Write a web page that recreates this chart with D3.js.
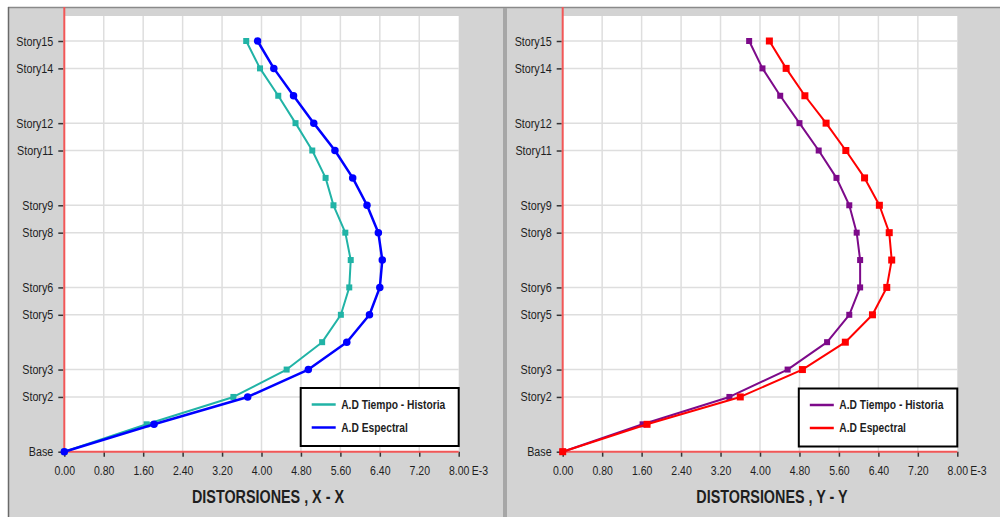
<!DOCTYPE html>
<html>
<head>
<meta charset="utf-8">
<script src="https://cdn.jsdelivr.net/npm/d3@7"></script>
<style>
  html, body { margin: 0; padding: 0; background: #fff; }
  svg { display: block; }
  text { font-family: "Liberation Sans Narrow", "Arial Narrow", "Liberation Sans", Arial, sans-serif; fill: #1e1e1e; }
</style>
</head>
<body>
<div id="chart"></div>
<script>
// story names, bottom to top
const stories = ["Base", "Story1", "Story2", "Story3", "Story4", "Story5", "Story6", "Story7",
                 "Story8", "Story9", "Story10", "Story11", "Story12", "Story13", "Story14", "Story15"];
// only these storeys get a label + grid line
const labelledStories = [0, 2, 3, 5, 6, 8, 9, 11, 12, 14, 15];
const xTicks = [0, 0.8, 1.6, 2.4, 3.2, 4.0, 4.8, 5.6, 6.4, 7.2, 8.0];
const seriesNames = ["A.D Tiempo - Historia", "A.D Espectral"];
const titles = ["DISTORSIONES , X - X", "DISTORSIONES , Y - Y"];

// drifts (x 1E-3), Base .. Story15
const tiempoXX   = [0, 1.67, 3.43, 4.51, 5.23, 5.61, 5.78, 5.81, 5.70, 5.46, 5.30, 5.03, 4.69, 4.34, 3.97, 3.69];
const espectralXX = [0, 1.82, 3.72, 4.95, 5.73, 6.19, 6.40, 6.45, 6.37, 6.14, 5.85, 5.49, 5.06, 4.65, 4.25, 3.92];
const tiempoYY   = [0, 1.62, 3.38, 4.56, 5.36, 5.81, 6.03, 6.03, 5.96, 5.81, 5.55, 5.19, 4.80, 4.41, 4.05, 3.78];
const espectralYY = [0, 1.71, 3.60, 4.86, 5.73, 6.28, 6.57, 6.67, 6.62, 6.42, 6.12, 5.74, 5.34, 4.91, 4.53, 4.19];

const W = 1000, H = 517;

const svg = d3.select("#chart").append("svg")
    .attr("width", W)
    .attr("height", H);

// no narrow font installed -> squeeze the regular one to the narrow width
function condense(sel, k) {
    sel.each(function() {
        let len = this.getComputedTextLength();
        d3.select(this)
            .attr("textLength", len * k)
            .attr("lengthAdjust", "spacingAndGlyphs");
    });
}

// window chrome
svg.append("rect").attr("x", 8).attr("y", 7).attr("width", W - 8).attr("height", H - 7).attr("fill", "#d3d3d3");
svg.append("line").attr("x1", 8).attr("x2", W).attr("y1", 7.5).attr("y2", 7.5).attr("stroke", "#8a8a8a").attr("stroke-width", 1.5);
svg.append("line").attr("x1", 8.5).attr("x2", 8.5).attr("y1", 7).attr("y2", H).attr("stroke", "#6a6a6a").attr("stroke-width", 1.5);
svg.append("rect").attr("x", 503).attr("y", 8).attr("width", 4).attr("height", H - 8).attr("fill", "#a6a6a6");

function DriftChart() {

    let self = this;

    self.initialize = function(conf) {
        self.conf = conf;
        self.x = d3.scaleLinear().domain([0, 8]).range([conf.left, conf.right]);
        self.y = d3.scaleLinear().domain([0, 15]).range([conf.bottom, conf.top]);
        self.g = svg.append("g");
        self.render();
    };

    self.render = function() {
        self.drawFrame();
        self.drawAxes();
        self.drawSeries();
        self.drawLegend();
    };

    self.drawFrame = function() {
        let c = self.conf;
        self.g.append("rect")
            .attr("x", self.x(0)).attr("y", c.plotTop)
            .attr("width", self.x(8) - self.x(0))
            .attr("height", self.y(0) - c.plotTop)
            .attr("fill", "#fff");

        self.g.selectAll("line.vgrid")
            .data(xTicks.filter(d => d > 0 && d < 8))
            .enter().append("line")
            .attr("class", "vgrid")
            .attr("x1", d => self.x(d)).attr("x2", d => self.x(d))
            .attr("y1", c.plotTop).attr("y2", self.y(0))
            .attr("stroke", "#dedede").attr("stroke-width", 1.5);

        self.g.selectAll("line.hgrid")
            .data(labelledStories.filter(d => d > 0))
            .enter().append("line")
            .attr("class", "hgrid")
            .attr("x1", self.x(0)).attr("x2", self.x(8))
            .attr("y1", d => self.y(d)).attr("y2", d => self.y(d))
            .attr("stroke", "#dedede").attr("stroke-width", 1.5);
    };

    self.drawAxes = function() {
        let c = self.conf;

        let xAxis = d3.axisBottom(self.x)
            .tickValues(xTicks)
            .tickFormat(d3.format(".2f"))
            .tickSize(5)
            .tickPadding(9);
        let xg = self.g.append("g")
            .attr("transform", "translate(0," + self.y(0) + ")")
            .call(xAxis);
        xg.select(".domain").remove();
        xg.selectAll(".tick line").attr("stroke", "#333").attr("stroke-width", 1.5);
        xg.selectAll(".tick text").style("font-size", "12.5px").attr("fill", "#1e1e1e").call(condense, 0.84);
        // exponent after the last label
        xg.append("text")
            .attr("x", self.x(8) + 13)
            .attr("y", 14)
            .attr("dy", "0.71em")
            .attr("text-anchor", "start")
            .style("font-size", "12.5px")
            .attr("fill", "#1e1e1e")
            .text("E-3")
            .call(condense, 0.84);

        let yAxis = d3.axisLeft(self.y)
            .tickValues(labelledStories)
            .tickFormat(d => stories[d])
            .tickSize(5)
            .tickPadding(5);
        let yg = self.g.append("g")
            .attr("transform", "translate(" + (self.x(0) - 1) + ",0)")
            .call(yAxis);
        yg.select(".domain").remove();
        yg.selectAll(".tick line").attr("stroke", "#333").attr("stroke-width", 1.5);
        yg.selectAll(".tick text").style("font-size", "12.5px").attr("fill", "#1e1e1e").call(condense, 0.86);

        // red axis lines
        self.g.append("line")
            .attr("x1", self.x(0)).attr("x2", self.x(0))
            .attr("y1", 7).attr("y2", self.y(0))
            .attr("stroke", "#f25757").attr("stroke-width", 2);
        self.g.append("line")
            .attr("x1", self.x(0)).attr("x2", self.x(8))
            .attr("y1", self.y(0)).attr("y2", self.y(0))
            .attr("stroke", "#f25757").attr("stroke-width", 2);

        self.g.append("text")
            .attr("x", c.titleX)
            .attr("y", c.titleY)
            .attr("text-anchor", "middle")
            .style("font-size", "17.5px")
            .style("font-weight", "bold")
            .attr("fill", "#111")
            .text(c.title)
            .call(condense, 0.82);
    };

    self.drawSeries = function() {
        let line = d3.line()
            .x(d => self.x(d))
            .y((d, i) => self.y(i));

        self.conf.series.forEach(function(s) {
            let sg = self.g.append("g");
            sg.append("path")
                .datum(s.values)
                .attr("fill", "none")
                .attr("stroke", s.color)
                .attr("stroke-width", s.width)
                .attr("stroke-linejoin", "round")
                .attr("d", line);

            if (s.marker === "circle") {
                sg.selectAll("circle")
                    .data(s.values)
                    .enter().append("circle")
                    .attr("cx", d => self.x(d))
                    .attr("cy", (d, i) => self.y(i))
                    .attr("r", s.size / 2)
                    .attr("fill", s.color);
            } else {
                sg.selectAll("rect")
                    .data(s.values)
                    .enter().append("rect")
                    .attr("x", d => self.x(d) - s.size / 2)
                    .attr("y", (d, i) => self.y(i) - s.size / 2)
                    .attr("width", s.size)
                    .attr("height", s.size)
                    .attr("fill", s.color);
            }
        });
    };

    self.drawLegend = function() {
        let c = self.conf;
        let lg = self.g.append("g")
            .attr("transform", "translate(" + (self.x(8) - c.legendW) + "," + c.legendTop + ")");

        lg.append("rect")
            .attr("x", 0).attr("y", 0)
            .attr("width", c.legendW).attr("height", 58)
            .attr("fill", "#fff")
            .attr("stroke", "#000")
            .attr("stroke-width", 2);

        let items = lg.selectAll("g.item")
            .data(c.series)
            .enter().append("g")
            .attr("class", "item")
            .attr("transform", (d, i) => "translate(0," + (16.5 + i * 23) + ")");

        items.append("line")
            .attr("x1", 11).attr("x2", 35)
            .attr("stroke", d => d.color)
            .attr("stroke-width", 2.5);

        items.append("text")
            .attr("x", 40.5)
            .attr("dy", "0.35em")
            .style("font-size", "12.5px")
            .style("font-weight", "bold")
            .attr("fill", "#111")
            .text(d => d.name)
            .call(condense, 0.82);
    };
}

let chartX = new DriftChart();
chartX.initialize({
    left: 64.3, right: 458.7, top: 41, bottom: 451.7, plotTop: 16,
    title: titles[0], titleX: 268, titleY: 503,
    legendW: 158, legendTop: 388,
    series: [
        {name: seriesNames[0], values: tiempoXX, color: "#21b3a6", width: 2, marker: "rect", size: 6},
        {name: seriesNames[1], values: espectralXX, color: "#0000ff", width: 2.5, marker: "circle", size: 7.5}
    ]
});

let chartY = new DriftChart();
chartY.initialize({
    left: 562.7, right: 957.3, top: 41, bottom: 451.7, plotTop: 16,
    title: titles[1], titleX: 772, titleY: 503,
    legendW: 158.5, legendTop: 388.5,
    series: [
        {name: seriesNames[0], values: tiempoYY, color: "#7d0a8a", width: 2, marker: "rect", size: 6},
        {name: seriesNames[1], values: espectralYY, color: "#ff0000", width: 2, marker: "rect", size: 7}
    ]
});
</script>
</body>
</html>
